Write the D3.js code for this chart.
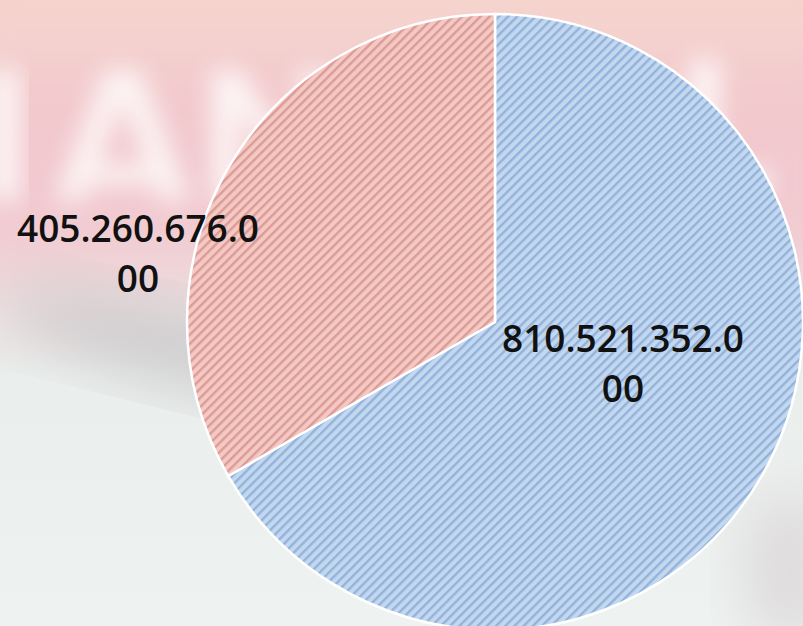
<!DOCTYPE html>
<html>
<head>
<meta charset="utf-8">
<script src="https://cdn.jsdelivr.net/npm/d3@7"></script>
<style>
  html, body { margin: 0; padding: 0; background: #eef2f0; }
  svg { display: block; }
</style>
</head>
<body>
<div id="root"></div>
<script>
// data
const categories = ['A', 'B']
const values = [810521352000, 405260676000]
const labels = ['810.521.352.0|00', '405.260.676.0|00']

const C = {
  width: 803,
  height: 626,
  cx: 495,
  cy: 322,
  radius: 308,
  fills: [
    { base: '#c3d8ef', stripe: '#93b3dc' },
    { base: '#f4c9c4', stripe: '#dc9b97' }
  ],
  // label offsets relative to the pie centre (Excel best-fit placement)
  labelPos: [[128, 43], [-357, -67]],
  lineHeight: 50
}

const svg = d3.select('#root').append('svg')
  .attr('width', C.width)
  .attr('height', C.height)

const defs = svg.append('defs')

// --- blurred photo background ---
const bg = defs.append('linearGradient').attr('id', 'bgGrad')
  .attr('x1', 0).attr('y1', 0).attr('x2', 0).attr('y2', 1)
bg.append('stop').attr('offset', '0%').attr('stop-color', '#f5d3cd')
bg.append('stop').attr('offset', '30%').attr('stop-color', '#f3d5d7')
bg.append('stop').attr('offset', '45%').attr('stop-color', '#eedadd')
bg.append('stop').attr('offset', '60%').attr('stop-color', '#eaeeec')
bg.append('stop').attr('offset', '100%').attr('stop-color', '#eef3f1')

defs.append('filter').attr('id', 'blurBig')
  .attr('x', '-30%').attr('y', '-30%').attr('width', '160%').attr('height', '160%')
  .append('feGaussianBlur').attr('stdDeviation', 12)
defs.append('filter').attr('id', 'blurHuge')
  .attr('x', '-30%').attr('y', '-30%').attr('width', '160%').attr('height', '160%')
  .append('feGaussianBlur').attr('stdDeviation', 28)

svg.append('rect')
  .attr('width', C.width).attr('height', C.height)
  .attr('fill', 'url(#bgGrad)')

const deco = svg.append('g')
// pink sign band
deco.append('rect').attr('x', -40).attr('y', 60).attr('width', 900).attr('height', 200)
  .attr('fill', '#f0bcc6').attr('opacity', 0.45).attr('filter', 'url(#blurHuge)')
// grey diagonal shadow
deco.append('ellipse').attr('cx', 190).attr('cy', 350).attr('rx', 190).attr('ry', 40)
  .attr('transform', 'rotate(14,190,350)')
  .attr('fill', '#c8c6c7').attr('opacity', 0.75).attr('filter', 'url(#blurHuge)')
deco.append('ellipse').attr('cx', 790).attr('cy', 570).attr('rx', 50).attr('ry', 80)
  .attr('fill', '#d6cdd0').attr('opacity', 0.6).attr('filter', 'url(#blurHuge)')
// blurred letter shapes of the sign (drawn as shapes, not text)
const letters = [
  'M 55 200 L 105 70 L 140 70 L 190 200 L 160 200 L 122 100 L 85 200 Z M 95 165 L 150 165 L 150 185 L 95 185 Z',
  'M 212 200 L 212 70 L 240 70 L 300 160 L 300 70 L 326 70 L 326 200 L 300 200 L 240 110 L 240 200 Z',
  'M -10 70 L 20 70 L 20 200 L -10 200 Z',
  'M 690 60 L 720 60 L 720 170 L 770 170 L 770 195 L 690 195 Z'
]
deco.selectAll('path.letter')
  .data(letters)
  .join('path')
  .attr('class', 'letter')
  .attr('d', d => d)
  .attr('fill', '#ffffff')
  .attr('opacity', 0.8)
  .attr('filter', 'url(#blurBig)')

// --- hatch patterns ---
C.fills.forEach((f, i) => {
  const p = defs.append('pattern')
    .attr('id', 'hatch' + i)
    .attr('patternUnits', 'userSpaceOnUse')
    .attr('width', 6.5).attr('height', 6.5)
    .attr('patternTransform', 'rotate(45)')
  p.append('rect').attr('width', 6.5).attr('height', 6.5).attr('fill', f.base)
  p.append('rect').attr('width', 2.4).attr('height', 6.5).attr('fill', f.stripe)
})

// --- pie ---
const pie = d3.pie().sort(null).value(d => d)
const arc = d3.arc().innerRadius(0).outerRadius(C.radius)

const chart = svg.append('g')
  .attr('transform', `translate(${C.cx},${C.cy})`)

chart.selectAll('path.slice')
  .data(pie(values))
  .join('path')
  .attr('class', 'slice')
  .attr('d', arc)
  .attr('fill', (d, i) => `url(#hatch${i})`)
  .attr('stroke', '#ffffff')
  .attr('stroke-width', 2.5)
  .attr('stroke-linejoin', 'round')

// --- data labels ---
const lab = chart.selectAll('text.lbl')
  .data(labels)
  .join('text')
  .attr('class', 'lbl')
  .attr('font-family', '"Open Sans", sans-serif')
  .attr('font-weight', 600)
  .attr('font-size', 37)
  .attr('fill', '#111111')
  .attr('text-anchor', 'middle')
  .attr('transform', (d, i) => `translate(${C.labelPos[i][0]},${C.labelPos[i][1]})`)

lab.selectAll('tspan')
  .data(d => d.split('|'))
  .join('tspan')
  .attr('x', 0)
  .attr('y', (d, j) => j * C.lineHeight - C.lineHeight / 2 + 12)
  .text(d => d)
</script>
</body>
</html>
